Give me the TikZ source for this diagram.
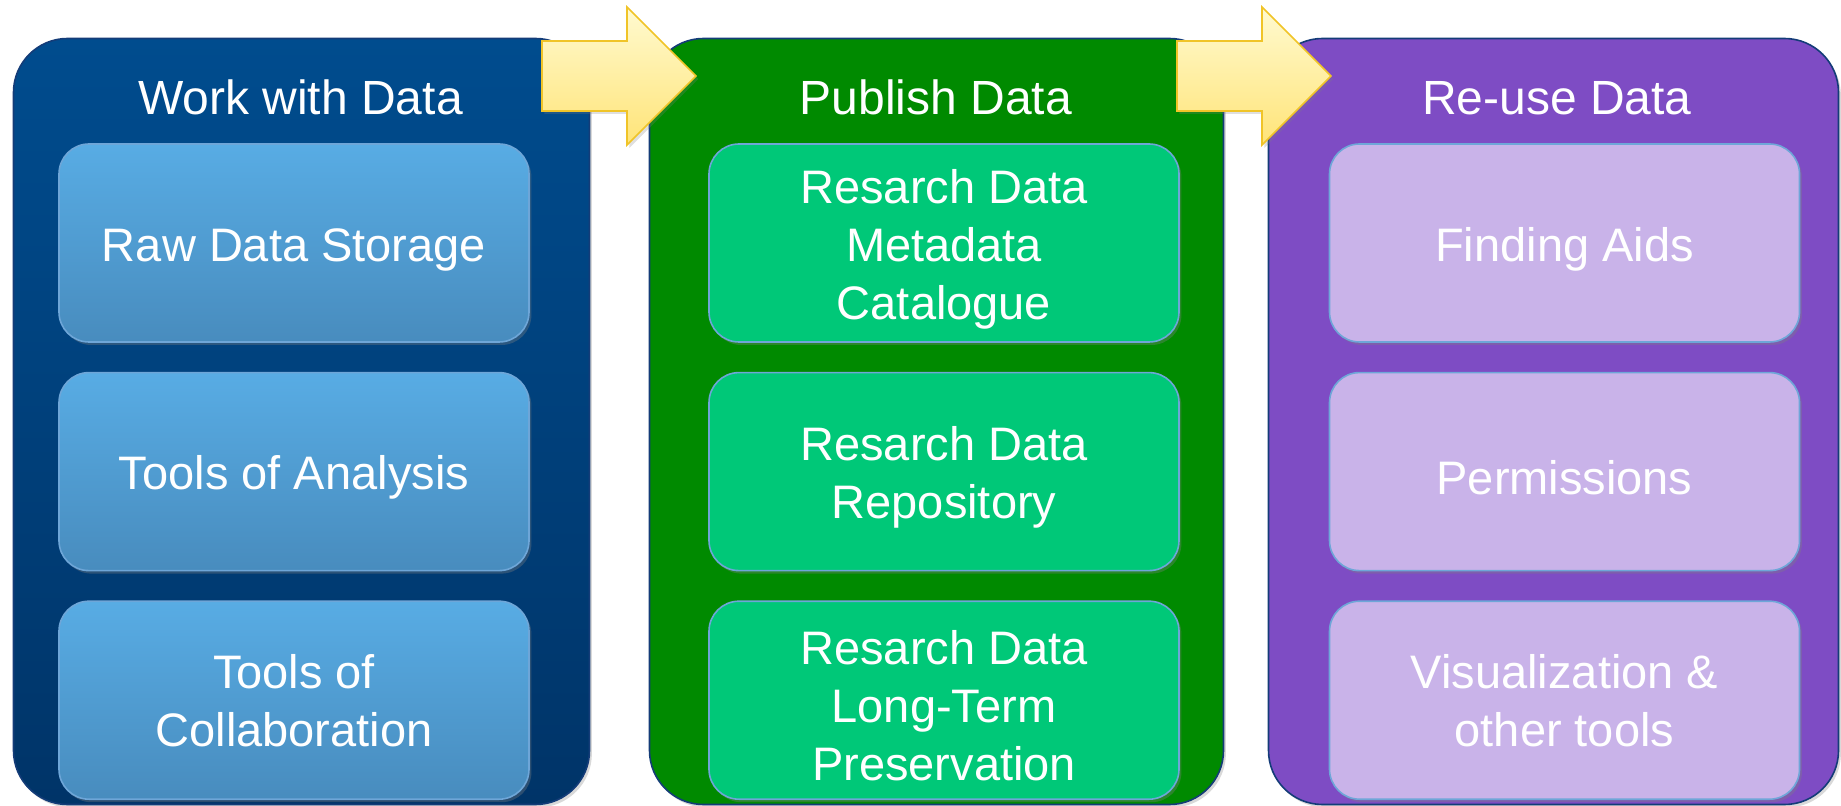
\documentclass[tikz,border=0pt]{standalone}
\usepackage{fontspec}
\setmainfont{Liberation Sans}
\usepackage{tikz}
\usetikzlibrary{positioning,shadows}
\definecolor{WorkDark}{RGB}{0,76,142}
\definecolor{WorkDeep}{RGB}{0,52,104}
\definecolor{WorkLight}{RGB}{88,172,228}
\definecolor{WorkMid}{RGB}{72,140,190}
\definecolor{PublishDark}{RGB}{0,138,0}
\definecolor{PublishLight}{RGB}{0,200,120}
\definecolor{ReuseDark}{RGB}{126,76,196}
\definecolor{ReuseLight}{RGB}{201,179,233}
\definecolor{BoxEdge}{RGB}{110,166,216}
\definecolor{PanelEdge}{RGB}{20,60,120}
\definecolor{ArrowLight}{RGB}{255,250,208}
\definecolor{ArrowDeep}{RGB}{255,228,120}
\definecolor{ArrowEdge}{RGB}{240,196,40}
\tikzset{panel/.style={rectangle, rounded corners=27pt, draw=PanelEdge, line width=0.8pt,
    minimum height=383pt, inner sep=0pt,
    drop shadow={shadow xshift=1.2pt, shadow yshift=-1.5pt, opacity=0.3}}}
\tikzset{stagetitle/.style={anchor=base, text=white, font=\fontsize{24}{28.5}\selectfont}}
\tikzset{stagebox/.style={rectangle, rounded corners=15pt, draw=BoxEdge, line width=0.8pt,
    minimum width=235pt, minimum height=99pt, align=center, text=white,
    font=\fontsize{23.5}{29}\selectfont,
    drop shadow={shadow xshift=1.2pt, shadow yshift=-1.5pt, opacity=0.35}}}
\tikzset{workbox/.style={stagebox, top color=WorkLight, bottom color=WorkMid}}
\tikzset{publishbox/.style={stagebox, fill=PublishLight}}
\tikzset{reusebox/.style={stagebox, fill=ReuseLight}}
\tikzset{stagearrow/.style={draw=ArrowEdge, line width=0.8pt, top color=ArrowLight, bottom color=ArrowDeep,
    drop shadow={shadow xshift=1.2pt, shadow yshift=-1.5pt, opacity=0.25}}}
\newcommand{\lift}{\rule{0pt}{23pt}}
\newcommand{\stagearrow}[1]{%
  \draw[stagearrow] (#1) -- ++(85,0) -- ++(0,-34) -- ++(69,69) -- ++(-69,69) -- ++(0,-34) -- ++(-85,0) -- cycle;}

\begin{document}
\begin{tikzpicture}[x=0.5pt, y=-0.5pt, node distance=14.5pt]
	\useasboundingbox (0,0) rectangle (1841,806);

	% three stages
	\node[panel, top color=WorkDark, bottom color=WorkDeep, minimum width=288pt] (work) at (301.5,421.5) {};
	\node[panel, fill=PublishDark, minimum width=287pt] (publish) at (936.5,421.5) {};
	\node[panel, fill=ReuseDark, minimum width=285pt] (reuse) at (1553.5,421.5) {};

	\node[stagetitle] (worktitle) at (300.5,114.5) {Work with Data};
	\node[stagetitle] (publishtitle) at (936,114.5) {Publish Data};
	\node[stagetitle] (reusetitle) at (1557,114.5) {Re-use Data};

	% work with data
	\node[workbox] (raw) at (294,243) {\lift Raw Data Storage};
	\node[workbox, below=of raw] (analysis) {\lift Tools of Analysis};
	\node[workbox, below=of analysis] (collab) {Tools of\\Collaboration};

	% publish data
	\node[publishbox] (catalogue) at (944,243) {\lift Resarch Data\\Metadata\\Catalogue};
	\node[publishbox, below=of catalogue] (repository) {\lift Resarch Data\\Repository};
	\node[publishbox, below=of repository] (preservation) {\lift Resarch Data\\Long-Term\\Preservation};

	% re-use data
	\node[reusebox] (finding) at (1564.5,243) {\lift Finding Aids};
	\node[reusebox, below=of finding] (permissions) {\lift Permissions};
	\node[reusebox, below=of permissions] (visual) {Visualization \&\\other tools};

	% arrows between stages
	\coordinate (arrowA) at (542,41);
	\coordinate (arrowB) at (1177,41);
	\stagearrow{arrowA}
	\stagearrow{arrowB}
\end{tikzpicture}
\end{document}
